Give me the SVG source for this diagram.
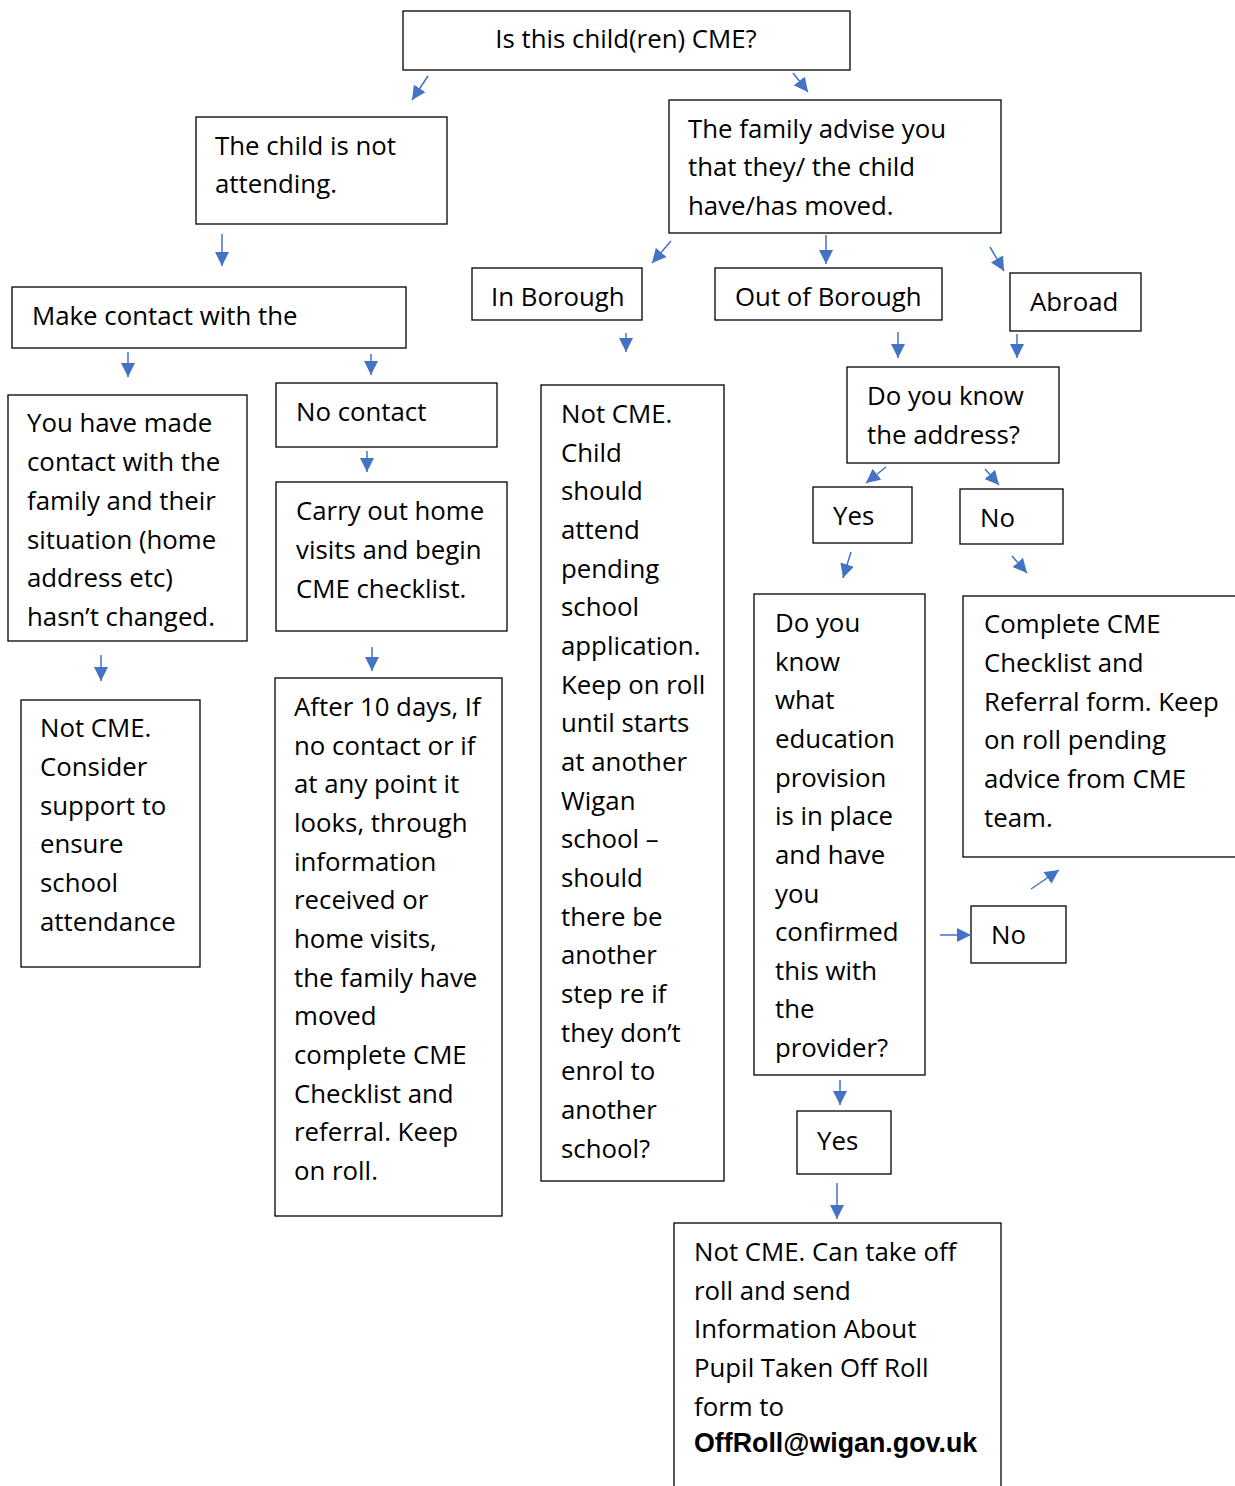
<svg xmlns="http://www.w3.org/2000/svg" width="1235" height="1486" viewBox="0 0 1235 1486">
<style>
.b{fill:#fff;stroke:#000;stroke-width:1.3}
.t{font-family:"Open Sans","Liberation Sans",sans-serif;font-size:25.8px;fill:#000}
.e{font-family:"Liberation Sans",Arial,sans-serif;font-size:26.8px;font-weight:bold;fill:#000}
.c{stroke:#4472C4;stroke-width:1.5;fill:none;marker-end:url(#ah)}
</style>
<defs>
<marker id="ah" markerUnits="userSpaceOnUse" markerWidth="16" markerHeight="14" refX="14" refY="7" orient="auto">
<path d="M0,0 L14,7 L0,14 Z" fill="#4472C4"/>
</marker>
</defs>
<rect width="1235" height="1486" fill="#fff"/>
<g id="n1"><rect class="b" x="403" y="11" width="447" height="59"/><text class="t" x="626" y="48" text-anchor="middle">Is this child(ren) CME?</text></g>
<g id="n2"><rect class="b" x="196" y="117" width="251" height="107"/><text class="t"><tspan x="215" y="155">The child is not</tspan><tspan x="215" y="193">attending.</tspan></text></g>
<g id="n3"><rect class="b" x="669" y="100" width="332" height="133"/><text class="t"><tspan x="688" y="138">The family advise you</tspan><tspan x="688" y="176">that they/ the child</tspan><tspan x="688" y="215">have/has moved.</tspan></text></g>
<g id="n4"><rect class="b" x="12" y="287" width="394" height="61"/><text class="t" x="32" y="325">Make contact with the</text></g>
<g id="n5"><rect class="b" x="472" y="268" width="170" height="52"/><text class="t" x="491" y="306">In Borough</text></g>
<g id="n6"><rect class="b" x="715" y="268" width="227" height="52"/><text class="t" x="735" y="306">Out of Borough</text></g>
<g id="n7"><rect class="b" x="1010" y="273" width="131" height="58"/><text class="t" x="1030" y="311">Abroad</text></g>
<g id="n8"><rect class="b" x="8" y="395" width="239" height="246"/><text class="t"><tspan x="27" y="432">You have made</tspan><tspan x="27" y="471">contact with the</tspan><tspan x="27" y="510">family and their</tspan><tspan x="27" y="549">situation (home</tspan><tspan x="27" y="587">address etc)</tspan><tspan x="27" y="626">hasn’t changed.</tspan></text></g>
<g id="n9"><rect class="b" x="276" y="383" width="221" height="64"/><text class="t" x="296" y="421">No contact</text></g>
<g id="n10"><rect class="b" x="276" y="482" width="231" height="149"/><text class="t"><tspan x="296" y="520">Carry out home</tspan><tspan x="296" y="559">visits and begin</tspan><tspan x="296" y="598">CME checklist.</tspan></text></g>
<g id="n11"><rect class="b" x="541" y="385" width="183" height="796"/><text class="t"><tspan x="561" y="423">Not CME.</tspan><tspan x="561" y="462">Child</tspan><tspan x="561" y="500">should</tspan><tspan x="561" y="539">attend</tspan><tspan x="561" y="578">pending</tspan><tspan x="561" y="616">school</tspan><tspan x="561" y="655">application.</tspan><tspan x="561" y="694">Keep on roll</tspan><tspan x="561" y="732">until starts</tspan><tspan x="561" y="771">at another</tspan><tspan x="561" y="810">Wigan</tspan><tspan x="561" y="848">school –</tspan><tspan x="561" y="887">should</tspan><tspan x="561" y="926">there be</tspan><tspan x="561" y="964">another</tspan><tspan x="561" y="1003">step re if</tspan><tspan x="561" y="1042">they don’t</tspan><tspan x="561" y="1080">enrol to</tspan><tspan x="561" y="1119">another</tspan><tspan x="561" y="1158">school?</tspan></text></g>
<g id="n12"><rect class="b" x="847" y="367" width="212" height="96"/><text class="t"><tspan x="867" y="405">Do you know</tspan><tspan x="867" y="444">the address?</tspan></text></g>
<g id="n13"><rect class="b" x="813" y="487" width="99" height="56"/><text class="t" x="833" y="525">Yes</text></g>
<g id="n14"><rect class="b" x="960" y="489" width="103" height="55"/><text class="t" x="980" y="527">No</text></g>
<g id="n15"><rect class="b" x="21" y="700" width="179" height="267"/><text class="t"><tspan x="40" y="737">Not CME.</tspan><tspan x="40" y="776">Consider</tspan><tspan x="40" y="815">support to</tspan><tspan x="40" y="853">ensure</tspan><tspan x="40" y="892">school</tspan><tspan x="40" y="931">attendance</tspan></text></g>
<g id="n16"><rect class="b" x="275" y="678" width="227" height="538"/><text class="t"><tspan x="294" y="716">After 10 days, If</tspan><tspan x="294" y="755">no contact or if</tspan><tspan x="294" y="793">at any point it</tspan><tspan x="294" y="832">looks, through</tspan><tspan x="294" y="871">information</tspan><tspan x="294" y="909">received or</tspan><tspan x="294" y="948">home visits,</tspan><tspan x="294" y="987">the family have</tspan><tspan x="294" y="1025">moved</tspan><tspan x="294" y="1064">complete CME</tspan><tspan x="294" y="1103">Checklist and</tspan><tspan x="294" y="1141">referral. Keep</tspan><tspan x="294" y="1180">on roll.</tspan></text></g>
<g id="n17"><rect class="b" x="754" y="594" width="171" height="481"/><text class="t"><tspan x="775" y="632">Do you</tspan><tspan x="775" y="671">know</tspan><tspan x="775" y="709">what</tspan><tspan x="775" y="748">education</tspan><tspan x="775" y="787">provision</tspan><tspan x="775" y="825">is in place</tspan><tspan x="775" y="864">and have</tspan><tspan x="775" y="903">you</tspan><tspan x="775" y="941">confirmed</tspan><tspan x="775" y="980">this with</tspan><tspan x="775" y="1018">the</tspan><tspan x="775" y="1057">provider?</tspan></text></g>
<g id="n18"><rect class="b" x="963" y="596" width="290" height="261"/><text class="t"><tspan x="984" y="633">Complete CME</tspan><tspan x="984" y="672">Checklist and</tspan><tspan x="984" y="711">Referral form. Keep</tspan><tspan x="984" y="749">on roll pending</tspan><tspan x="984" y="788">advice from CME</tspan><tspan x="984" y="827">team.</tspan></text></g>
<g id="n19"><rect class="b" x="971" y="906" width="95" height="57"/><text class="t" x="991" y="944">No</text></g>
<g id="n20"><rect class="b" x="797" y="1111" width="94" height="63"/><text class="t" x="817" y="1150">Yes</text></g>
<g id="n21"><rect class="b" x="674" y="1223" width="327" height="280"/><text class="t"><tspan x="694" y="1261">Not CME. Can take off</tspan><tspan x="694" y="1300">roll and send</tspan><tspan x="694" y="1338">Information About</tspan><tspan x="694" y="1377">Pupil Taken Off Roll</tspan><tspan x="694" y="1416">form to</tspan></text><text class="e" x="694" y="1452">OffRoll@wigan.gov.uk</text></g>
<g id="connectors">
<line class="c" x1="428" y1="76" x2="412" y2="100"/>
<line class="c" x1="793" y1="73" x2="808" y2="92"/>
<line class="c" x1="222" y1="234" x2="222" y2="266"/>
<line class="c" x1="826" y1="235" x2="826" y2="264"/>
<line class="c" x1="671" y1="241" x2="652" y2="263"/>
<line class="c" x1="990" y1="247" x2="1004" y2="271"/>
<line class="c" x1="128" y1="352" x2="128" y2="377"/>
<line class="c" x1="371" y1="354" x2="371" y2="375"/>
<line class="c" x1="626" y1="333" x2="626" y2="352"/>
<line class="c" x1="898" y1="332" x2="898" y2="358"/>
<line class="c" x1="1017" y1="334" x2="1017" y2="358"/>
<line class="c" x1="367" y1="451" x2="367" y2="472"/>
<line class="c" x1="886" y1="467" x2="866" y2="483"/>
<line class="c" x1="985" y1="469" x2="999" y2="485"/>
<line class="c" x1="101" y1="655" x2="101" y2="681"/>
<line class="c" x1="372" y1="647" x2="372" y2="671"/>
<line class="c" x1="851" y1="552" x2="843" y2="578"/>
<line class="c" x1="1012" y1="556" x2="1027" y2="573"/>
<line class="c" x1="940" y1="935" x2="971" y2="935"/>
<line class="c" x1="1031" y1="889" x2="1059" y2="870"/>
<line class="c" x1="840" y1="1080" x2="840" y2="1105"/>
<line class="c" x1="837" y1="1183" x2="837" y2="1219"/>
</g>
</svg>
